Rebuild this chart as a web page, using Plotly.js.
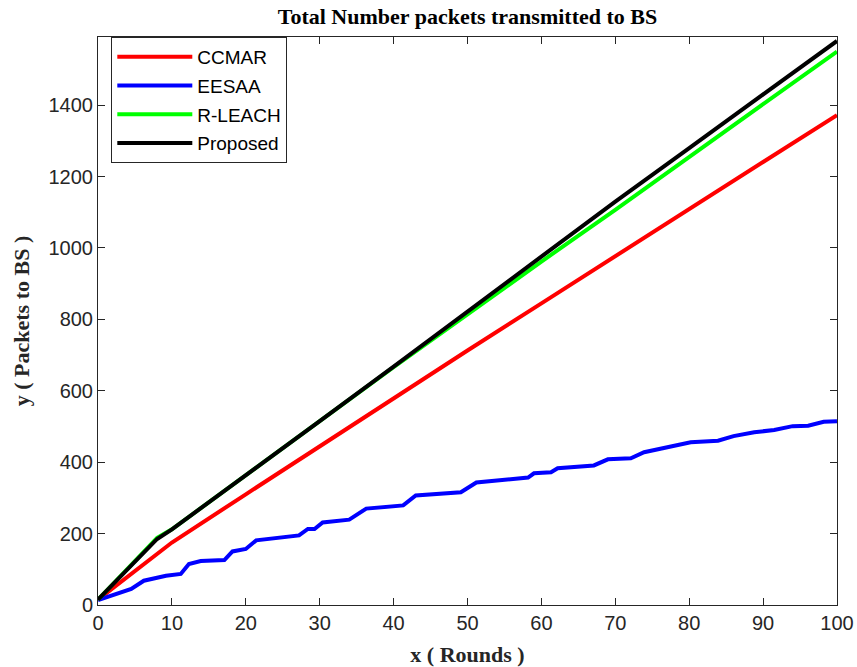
<!DOCTYPE html>
<html>
<head>
<meta charset="utf-8">
<script src="https://cdn.plot.ly/plotly-3.0.1.min.js"></script>
<style>html,body{margin:0;padding:0;background:#fff;}#chart{width:857px;height:667px;}</style>
</head>
<body>
<div id="chart"></div>
<script>
// Series data
const ccmarX = [0, 4, 8, 10, 20, 30, 40, 50, 60, 70, 80, 90, 100];
const ccmarY = [15, 80, 145, 175, 310, 445, 580, 713, 845, 978, 1110, 1241, 1372];

const eesaaX = [0, 4.5, 6.2, 9.2, 11.2, 12.3, 13.9, 17.1, 18.2, 20, 21.4, 23.4, 27.2, 28.4, 29.3, 30.4, 34, 36.3, 41.3, 43, 49.1, 51.2, 53.2, 58.2, 59, 61.3, 62.2, 67.1, 69, 72.1, 73.9, 76.2, 78, 80.2, 83.9, 86, 88.8, 91.5, 94, 96.1, 98.2, 100];
const eesaaY = [14, 45, 68, 82, 87, 115, 123, 126, 150, 157, 181, 185, 195, 213, 213, 231, 239, 270, 279, 307, 316, 343, 347, 357, 369, 372, 383, 391, 408, 411, 428, 439, 448, 456, 460, 473, 484, 490, 501, 502, 513, 515];

const rleachX = [0, 4, 8, 10, 20, 30, 40, 50, 60, 70, 80, 90, 100];
const rleachY = [15, 101, 188, 212, 362, 515, 666, 815, 962, 1107, 1256, 1403, 1550];

const proposedX = [0, 4, 8, 10, 20, 30, 40, 50, 60, 70, 80, 90, 100];
const proposedY = [15, 100, 185, 212, 362, 515, 668, 822, 975, 1130, 1280, 1430, 1580];

const names = ['CCMAR', 'EESAA', 'R-LEACH', 'Proposed'];
const colors = ['#ff0000', '#0000ff', '#00ff00', '#000000'];
const xTicks = [0, 10, 20, 30, 40, 50, 60, 70, 80, 90, 100];
const yTicks = [0, 200, 400, 600, 800, 1000, 1200, 1400];

const xs = [ccmarX, eesaaX, rleachX, proposedX];
const ys = [ccmarY, eesaaY, rleachY, proposedY];

const traces = names.map((n, i) => ({
  type: 'scatter', mode: 'lines', name: n,
  x: xs[i], y: ys[i], legendgroup: 'g' + i,
  line: {color: colors[i], width: 4}
}));

const serif = 'Liberation Serif, Times New Roman, serif';
const sans = 'Liberation Sans, Arial, sans-serif';

const axisCommon = {
  showline: true, mirror: 'ticks', linecolor: '#262626', linewidth: 1,
  ticks: 'inside', ticklen: 7, tickcolor: '#262626', tickwidth: 1,
  showgrid: false, zeroline: false, automargin: false,
  tickfont: {family: sans, size: 20, color: '#262626'}
};

const layout = {
  width: 857, height: 667,
  margin: {l: 98, r: 20, t: 37, b: 62},
  paper_bgcolor: '#fff', plot_bgcolor: '#fff',
  showlegend: true,
  title: {
    text: '<b>Total Number packets transmitted to BS</b>',
    font: {family: serif, size: 22, color: '#000'},
    x: 0.5, xref: 'paper', y: 0.975, yref: 'container', yanchor: 'middle'
  },
  xaxis: Object.assign({}, axisCommon, {
    range: [0, 100], tickvals: xTicks, ticktext: xTicks.map(String),
    title: {text: '<b>x ( Rounds )</b>', standoff: 15,
      font: {family: serif, size: 22, color: '#262626'}}
  }),
  yaxis: Object.assign({}, axisCommon, {
    range: [0, 1591], tickvals: yTicks, ticktext: yTicks.map(String),
    title: {text: '<b>y ( Packets to BS )</b>', standoff: 12,
      font: {family: serif, size: 22, color: '#262626'}}
  }),
  legend: {
    x: 0.018, y: 1.0, xanchor: 'left', yanchor: 'top',
    bgcolor: '#fff', bordercolor: '#262626', borderwidth: 1,
    font: {family: sans, size: 19, color: '#000'},
    tracegroupgap: 1, itemwidth: 75
  }
};

Plotly.newPlot('chart', traces, layout, {displayModeBar: false, staticPlot: true});
</script>
</body>
</html>
